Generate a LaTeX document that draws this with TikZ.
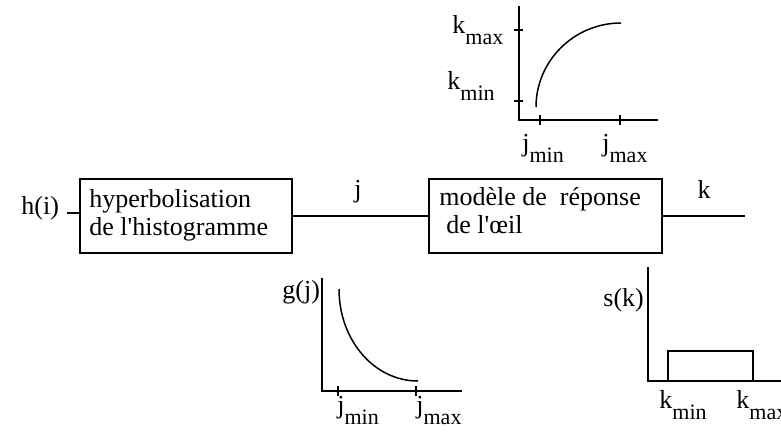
\documentclass[tikz,border=0pt]{standalone}
\usepackage{fontspec}
\setmainfont{Liberation Serif}
\newcommand{\lowsb}[1]{\raisebox{-0.45em}{\fontsize{11}{13}\selectfont #1}}
\begin{document}
\begin{tikzpicture}[x=0.5pt,y=-0.5pt,
  every node/.style={font=\fontsize{13}{15}\selectfont, inner sep=0pt},
  lbl/.style={anchor=base west},
  blk/.style={draw, line width=0.75pt, minimum width=#1*0.5pt, minimum height=37pt},
  wire/.style={line width=0.65pt},
  axis/.style={line width=0.9pt},
  crv/.style={line width=0.75pt}]
\useasboundingbox (0,0) rectangle (781,434);
% blocks
\node[blk=212] (b1) at (186,216) {};
\node[blk=233] (b2) at (545.5,216) {};
\node[lbl] (t1a) at (89,207) {hyperbolisation};
\node[lbl] (t1b) at (89,235) {de l\textquotesingle histogramme};
\node[lbl] (t2a) at (439,205) {modèle de\ \ réponse};
\node[lbl] (t2b) at (446,233) {de l\textquotesingle œil};
% input / output
\node[lbl] (hi) at (21,214) {h(i)};
\coordinate (hin) at (67,213);
\draw[wire] (hin) -- (hin -| b1.west);
\draw[wire] (b1.east) -- (b2.west);
\node (jl) at (358,197) [anchor=base] {j};
\coordinate (kout) at (745,216);
\draw[wire] (b2.east) -- (kout);
\node (kl) at (704,198) [anchor=base] {k};
% top plot
\coordinate (ta0) at (519,120);
\coordinate (tay) at (519,6);
\coordinate (tax) at (658,120);
\draw[axis] (tay) -- (ta0) -- (tax);
\draw[wire] (514,30) -- (523,30);
\draw[wire] (514,101) -- (523,101);
\draw[wire] (540,115) -- (540,125);
\draw[wire] (620,115) -- (620,125);
\draw[crv] (536,107) .. controls (536,61) and (574,23) .. (621,23);
\node[lbl] (tkmax) at (452,33) {k\lowsb{max}};
\node[lbl] (tkmin) at (447,89) {k\lowsb{min}};
\node[lbl] (tjmin) at (522,151) {j\lowsb{min}};
\node[lbl] (tjmax) at (602,151) {j\lowsb{max}};
% bottom-left plot
\coordinate (ga0) at (322,391);
\coordinate (gay) at (322,278);
\coordinate (gax) at (462,391);
\draw[axis] (gay) -- (ga0) -- (gax);
\draw[wire] (338,386) -- (338,396);
\draw[wire] (416,386) -- (416,396);
\draw[crv] (339,289) .. controls (339,340) and (374,381) .. (418,381);
\node[lbl] (gl) at (282,298) {g(j)};
\node[lbl] (gjmin) at (337,413) {j\lowsb{min}};
\node[lbl] (gjmax) at (416,413) {j\lowsb{max}};
% bottom-right plot
\coordinate (sa0) at (648,381);
\coordinate (say) at (648,267);
\coordinate (sax) at (781,381);
\draw[axis] (say) -- (sa0) -- (sax);
\draw[crv] (668,381) rectangle (753,351);
\node[lbl] (sl) at (603,306) {s(k)};
\node[lbl] (skmin) at (659,408) {k\lowsb{min}};
\node[lbl] (skmax) at (736,408) {k\lowsb{max}};
\end{tikzpicture}
\end{document}
